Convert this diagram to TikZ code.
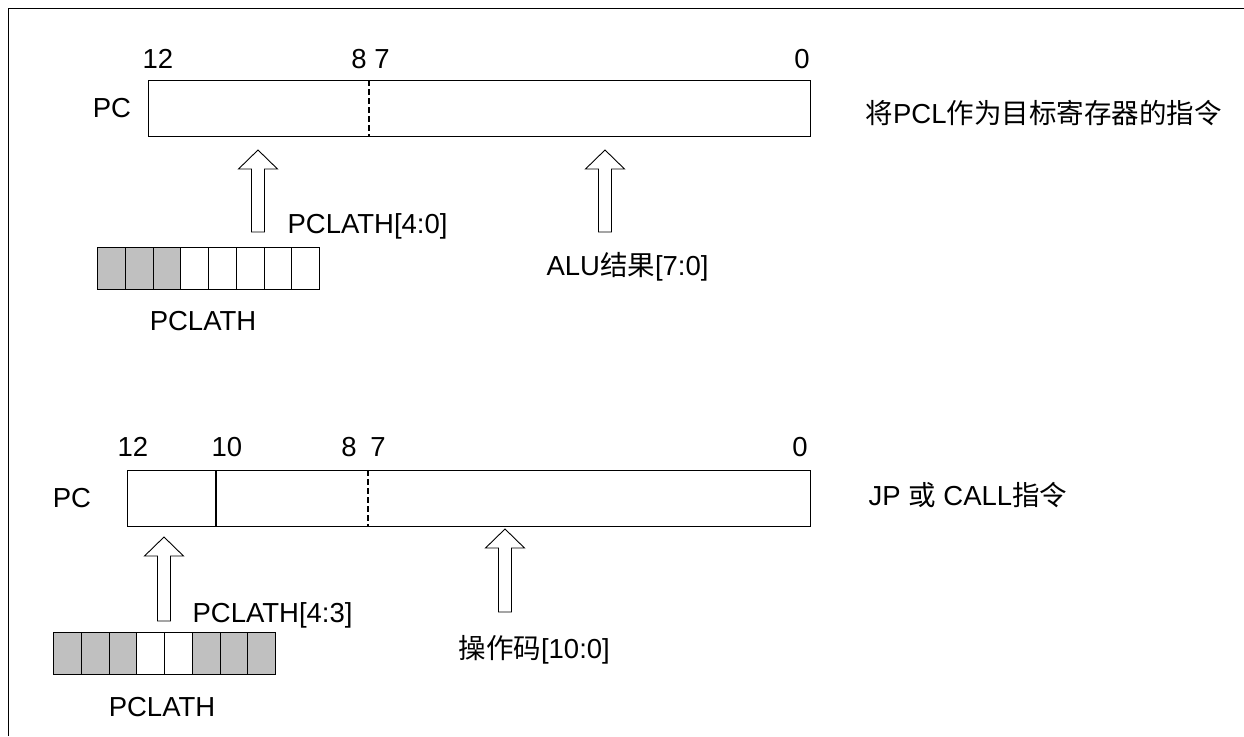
\documentclass[tikz,border=0pt]{standalone}
\usepackage{fontspec}
\setmainfont{Liberation Sans}
\newfontfamily\cjk{Noto Sans CJK SC}
\definecolor{cellgray}{RGB}{192,192,192}
% hollow up arrow: centre x, tip y, bottom y
\newcommand{\hollowup}[3]{%
  \draw[line width=0.9pt] (#1-6.5,#3) -- (#1-6.5,#2+19) -- (#1-19.5,#2+19) -- (#1,#2)
    -- (#1+19.5,#2+19) -- (#1+6.5,#2+19) -- (#1+6.5,#3) -- cycle;}

\begin{document}
\begin{tikzpicture}[x=1pt, y=-1pt, line width=1.1pt,
  txt/.style={inner sep=0pt, font=\fontsize{27.5}{32}\selectfont},
  reg/.style={draw, anchor=north west, minimum height=56pt, inner sep=0pt},
  cell/.style={draw, anchor=north west, minimum width=27.75pt, minimum height=42pt, inner sep=0pt}]
  \useasboundingbox (0,0) rectangle (1244,736);
  % Frame
  \draw[line width=1.6pt] (8.5,736) -- (8.5,8.5) -- (1244,8.5);

  % Upper PC (PCL as destination)
  \node[reg, minimum width=662pt] (pcA) at (148,80) {};
  \draw[dash pattern=on 6pt off 3pt] ([xshift=221pt]pcA.north west) -- ([xshift=221pt]pcA.south west);
  \node[txt, anchor=base] (pcAname) at (112,117) {PC};
  % bit numbers
  \node[txt, anchor=base] (bA12) at (158,68) {12};
  \node[txt, anchor=base] (bA8) at (359,68) {8};
  \node[txt, anchor=base] (bA7) at (382,68) {7};
  \node[txt, anchor=base] (bA0) at (802,68) {0};
  % inputs
  \hollowup{258}{150}{232}
  \hollowup{605}{150}{232}
  \node[txt, anchor=base west] (selA) at (287,233) {PCLATH[4:0]};
  \node[txt, anchor=base west] (aluA) at (546,275) {ALU{\cjk 结果}[7:0]};
  % PCLATH register
  \foreach \i/\c in {0/cellgray,1/cellgray,2/cellgray,3/white,4/white,5/white,6/white,7/white}
    \node[cell, fill=\c] (hA\i) at (97+27.75*\i,247) {};
  \node[txt, anchor=base] (hAname) at (203,330) {PCLATH};
  \node[txt, anchor=base west] (noteA) at (865,123) {{\cjk 将}PCL{\cjk 作为目标寄存器的指令}};

  % Lower PC (JP / CALL)
  \node[reg, minimum width=683pt] (pcB) at (127,470) {};
  \draw ([xshift=89pt]pcB.north west) -- ([xshift=89pt]pcB.south west);
  \draw[dash pattern=on 6pt off 3pt] ([xshift=241pt]pcB.north west) -- ([xshift=241pt]pcB.south west);
  \node[txt, anchor=base] (pcBname) at (72,507) {PC};
  % bit numbers
  \node[txt, anchor=base] (bB12) at (133,456) {12};
  \node[txt, anchor=base] (bB10) at (227,456) {10};
  \node[txt, anchor=base] (bB8) at (349,456) {8};
  \node[txt, anchor=base] (bB7) at (378,456) {7};
  \node[txt, anchor=base] (bB0) at (800,456) {0};
  % inputs
  \hollowup{164}{537}{621}
  \hollowup{505}{529}{612}
  \node[txt, anchor=base west] (selB) at (192,622) {PCLATH[4:3]};
  \node[txt, anchor=base west] (opB) at (458,658) {{\cjk 操作码}[10:0]};
  % PCLATH register
  \foreach \i/\c in {0/cellgray,1/cellgray,2/cellgray,3/white,4/white,5/cellgray,6/cellgray,7/cellgray}
    \node[cell, fill=\c] (hB\i) at (53+27.75*\i,632) {};
  \node[txt, anchor=base] (hBname) at (162,716) {PCLATH};
  \node[txt, anchor=base west] (noteB) at (868,505) {JP {\cjk 或} CALL{\cjk 指令}};
\end{tikzpicture}
\end{document}
